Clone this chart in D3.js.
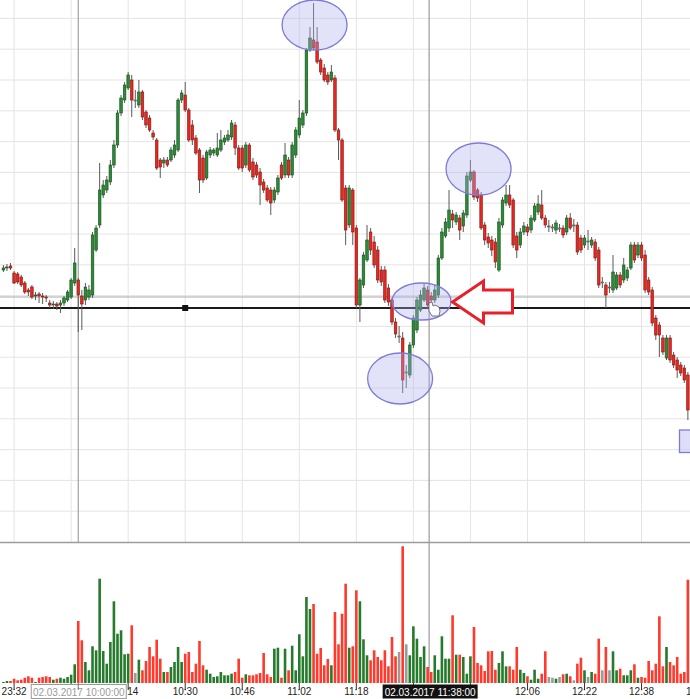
<!DOCTYPE html>
<html><head><meta charset="utf-8">
<script src="https://cdn.jsdelivr.net/npm/d3@7"></script>
<style>html,body{margin:0;padding:0;background:#fff;overflow:hidden}svg{display:block}</style>
</head><body><svg id="c" width="690" height="699"></svg>
<script>
// ---------------- DATA ----------------
const open = [
144.60,144.64,144.68,144.54,144.52,144.46,144.34,144.20,144.26,144.08,
144.12,144.08,144.06,143.94,143.90,143.92,143.90,143.94,144.00,144.06,
144.34,144.40,144.08,144.00,144.06,144.10,145.00,145.50,146.10,146.20,
146.36,146.70,147.10,147.74,148.00,148.24,148.40,148.00,147.90,148.16,
147.76,147.64,147.34,147.20,146.80,146.74,146.80,146.80,146.90,147.00,
148.00,148.10,147.80,147.50,147.24,147.00,146.84,146.44,146.90,146.94,
146.90,147.00,147.16,147.20,147.26,147.50,147.04,147.04,146.70,147.10,
146.76,146.70,146.56,146.36,146.24,146.20,146.00,146.16,146.70,146.50,
146.80,146.50,146.90,147.30,147.50,147.74,149.00,149.20,149.16,148.80,
148.64,148.50,148.40,148.44,147.40,147.20,146.24,145.50,146.20,145.44,
143.90,144.30,144.80,145.36,145.16,145.00,144.60,144.60,144.24,144.00,
143.56,143.28,143.24,142.56,142.50,143.10,143.40,143.80,144.00,144.20,
144.08,144.00,144.10,144.84,145.28,145.44,145.72,145.56,145.64,145.48,
145.70,146.40,146.56,146.20,146.10,145.50,145.26,145.20,145.16,144.60,
145.50,145.94,146.10,146.00,145.28,145.10,145.36,145.46,145.40,145.60,
145.76,145.90,145.64,145.48,145.46,145.40,145.44,145.44,145.36,145.64,
145.50,145.50,145.24,145.10,145.18,145.10,145.16,145.00,144.36,144.30,
144.26,144.20,144.24,144.50,144.40,144.44,144.64,145.10,144.90,145.10,
144.90,144.40,144.20,143.64,143.50,143.24,142.84,143.24,142.90,142.80,
142.70,142.64,142.50];
const high = [
144.70,144.72,144.74,144.58,144.56,144.50,144.38,144.24,144.30,144.16,
144.16,144.14,144.10,144.00,143.98,143.96,144.00,144.08,144.20,144.44,
145.04,144.44,144.20,144.34,144.30,145.36,145.50,146.74,146.40,146.48,
146.80,147.20,147.80,148.10,148.36,148.56,148.50,148.20,148.40,148.20,
147.80,147.70,147.40,147.24,146.84,146.86,146.86,147.06,147.20,148.04,
148.20,148.36,147.84,147.60,147.30,147.04,146.90,147.00,147.06,147.04,
147.34,147.40,147.30,147.40,147.60,147.56,147.10,147.10,147.16,147.14,
146.84,146.76,146.64,146.42,146.30,146.26,146.26,146.50,146.76,147.14,
146.86,147.16,147.46,148.00,147.80,149.04,149.46,149.94,149.46,148.84,
148.72,148.56,148.70,148.50,147.44,147.24,146.30,146.30,146.24,145.50,
144.44,144.96,145.50,145.44,145.28,145.08,144.68,144.68,144.32,144.04,
143.64,143.48,143.36,142.70,143.16,143.70,144.06,144.20,144.32,144.28,
144.16,144.30,144.90,145.44,145.64,146.20,145.80,145.76,145.70,145.80,
146.56,146.80,146.60,146.24,146.16,145.56,145.34,145.28,145.24,145.64,
146.06,146.30,146.30,146.04,145.36,145.44,145.56,145.52,145.70,145.94,
146.10,146.20,145.70,145.60,145.52,145.60,145.52,145.50,145.70,145.74,
145.62,145.56,145.30,145.30,145.40,145.26,145.22,145.06,144.46,144.36,
144.36,144.90,144.56,144.56,144.84,144.66,145.16,145.16,145.16,145.16,
145.00,144.46,144.26,143.70,143.56,143.30,143.30,143.30,142.96,142.86,
142.76,142.70,142.56];
const low = [
144.56,144.58,144.60,144.32,144.32,144.26,144.12,144.08,144.02,144.00,
143.94,143.92,143.96,143.84,143.82,143.80,143.74,143.88,143.96,144.02,
144.28,143.36,143.40,143.90,144.00,144.04,144.96,145.44,146.04,146.14,
146.30,146.64,147.04,147.68,147.94,148.20,147.66,147.84,147.84,147.60,
147.44,147.36,147.20,146.60,146.44,146.64,146.66,146.76,146.84,146.96,
147.94,147.76,147.16,147.10,146.90,146.14,146.34,146.40,146.84,146.88,
146.86,146.96,147.10,147.16,147.20,146.90,146.60,146.56,146.64,146.56,
146.40,146.44,145.90,146.14,145.96,145.70,145.94,146.10,146.40,146.44,
146.44,146.44,146.84,147.24,147.44,147.68,148.96,149.00,148.72,148.50,
148.36,148.30,148.36,147.36,146.80,145.96,145.10,145.44,145.10,143.84,
143.56,144.24,144.76,144.90,144.64,144.34,144.28,143.94,143.88,143.50,
143.24,143.14,142.14,142.24,142.44,143.04,143.34,143.76,143.96,143.84,
143.76,143.94,144.04,144.80,145.24,145.36,145.44,145.50,145.20,145.36,
145.64,146.36,146.00,145.96,145.40,145.10,145.04,144.88,144.64,144.56,
145.44,145.88,145.84,145.04,144.84,145.04,145.30,145.28,145.34,145.56,
145.70,145.60,145.44,145.36,145.36,145.32,145.36,145.24,145.30,145.40,
145.36,144.90,144.94,145.04,145.00,145.04,144.78,144.24,144.24,143.84,
144.14,144.14,144.20,144.24,144.34,144.38,144.60,144.74,144.84,144.78,
144.14,144.10,143.48,143.20,142.86,142.90,142.80,142.74,142.64,142.44,
142.48,142.34,141.60];
const close = [
144.64,144.66,144.64,144.34,144.36,144.30,144.16,144.16,144.06,144.10,
144.08,144.06,144.04,143.90,143.92,143.88,143.94,144.04,144.16,144.40,
144.74,144.10,143.92,144.26,144.20,145.30,145.44,146.20,146.30,146.40,
146.70,147.10,147.74,148.04,148.30,148.50,148.00,148.00,148.16,147.66,
147.50,147.40,147.26,146.64,146.66,146.80,146.70,147.00,147.10,148.00,
148.14,147.80,147.20,147.20,146.94,146.40,146.40,146.96,147.00,147.00,
147.04,147.20,147.24,147.30,147.54,147.04,146.64,146.64,147.10,146.60,
146.46,146.50,146.30,146.20,146.00,145.94,146.20,146.44,146.44,146.90,
146.50,147.10,147.40,147.64,147.74,149.00,149.24,149.04,148.76,148.56,
148.40,148.36,148.56,147.40,147.20,146.00,145.40,146.24,145.36,143.90,
144.40,144.90,145.20,145.00,144.70,144.40,144.36,144.00,143.96,143.56,
143.32,143.28,142.40,142.56,143.10,143.64,144.00,144.10,144.24,143.90,
144.00,144.20,144.84,145.36,145.56,145.80,145.60,145.70,145.40,145.74,
146.48,146.56,146.06,146.04,145.44,145.20,145.14,145.00,144.76,145.56,
146.00,146.10,145.90,145.10,145.00,145.36,145.48,145.36,145.64,145.88,
145.92,145.64,145.50,145.48,145.46,145.54,145.44,145.30,145.64,145.44,
145.50,144.96,145.00,145.24,145.18,145.20,144.84,144.30,144.36,144.10,
144.26,144.56,144.50,144.30,144.70,144.60,145.10,144.80,145.10,144.84,
144.20,144.16,143.54,143.30,143.30,142.96,143.24,142.80,142.70,142.60,
142.54,142.40,141.80];
const volume = [
100,200,200,430,270,330,530,670,530,100,530,600,670,600,330,430,530,430,600,830,1870,
6200,4270,2100,1270,3670,3270,10430,3200,1930,4100,8170,4930,5270,2870,2930,5770,1000,2330,1270,2200,
3600,2670,4330,2430,1100,1100,1600,2100,3600,2100,2930,3100,1100,1930,4200,1770,1330,930,600,670,1100,770,770,
930,1100,2430,530,870,770,770,870,1000,3000,870,600,3430,3530,530,3430,1270,3730,1270,4870,2670,8600,7400,7900,
2930,3500,1770,2400,1770,7100,3870,6930,9930,3530,3670,9270,8170,4370,2770,2270,3270,2600,2270,3270,1670,4600,2670,
3100,13670,3870,2770,5670,4430,2600,3670,1600,1100,2770,1330,4670,2430,2430,6770,2830,2830,
2600,930,2670,5600,2000,1770,1200,3170,3200,1330,2000,3170,1670,1670,1330,3600,1330,1000,670,330,
1330,430,930,3170,600,530,430,600,870,930,670,270,1930,2530,1270,600,1100,930,4430,1270,
3600,1270,3170,1270,1430,770,770,1270,1870,530,600,530,2200,1270,1930,6670,1670,3600,2100,1770,
2600,930,1100,10330];

// sessions: evening session of the previous day, then the 02.03.2017 day session (1-minute bars)
function buildTimes(h, m, n) {
  const a = [];
  for (let k = 0; k < n; k++) {
    const t = h * 60 + m + k;
    a.push(String(Math.floor(t / 60)).padStart(2, "0") + ":" + String(t % 60).padStart(2, "0"));
  }
  return a;
}
const times = buildTimes(23, 29, 21).concat(buildTimes(10, 0, 175));
const tickLabels = ["23:32","23:48","10:14","10:30","10:46","11:02","11:18","11:34","11:50","12:06","12:22","12:38","12:54"];
const gridTop = 149.632, gridStep = 0.616, gridCount = 17;
const grayLevel = 144.06, blackLevel = 143.84;
const sessionStart = "10:00", sessionLabel = "02.03.2017 10:00:00";
const cursorTime = "11:38", cursorLabel = "02.03.2017 11:38:00";

// ---------------- CHART ----------------
const W = 690, H = 699;
const pricePanel = [0, 542], volPanel = [543, 683];
const svg = d3.select("#c");
const fontFam = "'Liberation Sans', Arial, sans-serif";

const x = d3.scalePoint().domain(times).range([3.4, 3.4 + 3.565 * (times.length - 1)]);
const y = d3.scaleLinear().domain([150, 139.16]).range(pricePanel);
const yv = d3.scaleLinear().domain([0, 14000]).range([volPanel[1], volPanel[0]]);
const bw = 2.6;

const data = open.map((o, i) => ({t: times[i], o, h: high[i], l: low[i], c: close[i], v: volume[i]}));
const upC = "#2a8a35", upS = "#174d1c", dnC = "#e8271f", dnS = "#7d1712", flat = "#8c8c8c";
const colorOf = d => d.c > d.o ? upC : (d.c < d.o ? dnC : flat);
const strokeOf = d => d.c > d.o ? upS : (d.c < d.o ? dnS : "#555");

// horizontal grid
const gridPrices = d3.range(gridCount).map(k => gridTop - gridStep * k);
svg.append("g").selectAll("line").data(gridPrices).join("line")
  .attr("x1", 0).attr("x2", W).attr("y1", d => y(d)).attr("y2", d => y(d))
  .attr("stroke", "#e4e4e4").attr("stroke-width", 1);
// vertical grid
svg.append("g").selectAll("line").data(tickLabels).join("line")
  .attr("x1", d => x(d)).attr("x2", d => x(d)).attr("y1", pricePanel[0]).attr("y2", pricePanel[1])
  .attr("stroke", "#e4e4e4").attr("stroke-width", 1);

// session & cursor verticals
svg.append("line").attr("x1", x(sessionStart)).attr("x2", x(sessionStart))
  .attr("y1", 0).attr("y2", pricePanel[1]).attr("stroke", "#a0a0a0").attr("stroke-width", 1.2);
svg.append("line").attr("x1", x(cursorTime) + 1.5).attr("x2", x(cursorTime) + 1.5)
  .attr("y1", 0).attr("y2", volPanel[1]).attr("stroke", "#9a9a9a").attr("stroke-width", 1.2);

// level lines
svg.append("line").attr("x1", 0).attr("x2", W).attr("y1", y(grayLevel)).attr("y2", y(grayLevel))
  .attr("stroke", "#a8a8a8").attr("stroke-width", 1.2);
svg.append("line").attr("x1", 0).attr("x2", W).attr("y1", y(blackLevel)).attr("y2", y(blackLevel))
  .attr("stroke", "#1a1a1a").attr("stroke-width", 2);

// candles
const cg = svg.append("g");
cg.selectAll("line").data(data).join("line")
  .attr("x1", d => x(d.t)).attr("x2", d => x(d.t))
  .attr("y1", d => y(d.h)).attr("y2", d => y(d.l))
  .attr("stroke", "#5a5a5a").attr("stroke-width", 1);
cg.selectAll("rect").data(data).join("rect")
  .attr("x", d => x(d.t) - bw / 2).attr("width", bw)
  .attr("y", d => y(Math.max(d.o, d.c)))
  .attr("height", d => Math.max(1, Math.abs(y(d.o) - y(d.c))))
  .attr("fill", colorOf).attr("stroke", strokeOf).attr("stroke-width", 0.6);

// anchor square on the black level
svg.append("rect").attr("x", x("10:30") - 3).attr("y", y(blackLevel) - 3)
  .attr("width", 6).attr("height", 6).attr("fill", "#111");

// highlight ellipses (annotation)
const ell = [
  {t: "11:06", p: 149.50, rx: 32.5, ry: 25},
  {t: "11:52", p: 146.62, rx: 32.5, ry: 26},
  {t: "11:36", p: 143.97, rx: 29.5, ry: 18.5},
  {t: "11:30", p: 142.43, rx: 32.5, ry: 25.5}
];
svg.append("g").selectAll("ellipse").data(ell).join("ellipse")
  .attr("cx", d => x(d.t) + 1).attr("cy", d => y(d.p)).attr("rx", d => d.rx).attr("ry", d => d.ry)
  .attr("fill", "rgba(175,175,238,0.36)").attr("stroke", "#7c7cd8").attr("stroke-width", 1.3);

// small price box at right edge
svg.append("rect").attr("x", 679.5).attr("y", y(141.40)).attr("width", 14).attr("height", 22.5)
  .attr("fill", "rgba(205,205,245,0.65)").attr("stroke", "#7c7cd8").attr("stroke-width", 1.3);

// red hollow arrow pointing left
const ax = 452.5, ay = 302;
svg.append("path")
  .attr("d", `M${ax},${ay} L${ax+31},${ay-21} L${ax+31},${ay-12} L${ax+60},${ay-12} L${ax+60},${ay+11} L${ax+31},${ay+11} L${ax+31},${ay+21} Z`)
  .attr("fill", "#fff").attr("stroke", "#e8202a").attr("stroke-width", 3).attr("stroke-linejoin", "miter");

// mouse cursor (hand)
svg.append("path")
  .attr("d", "M429,303 l3,-1 l1,4 l2,-1 l2,1 l2,1 l1,4 l-1,5 l-7,0 l-3,-5 z")
  .attr("fill", "#fff").attr("stroke", "#555").attr("stroke-width", 0.8);

// volume bars
svg.append("g").selectAll("rect").data(data).join("rect")
  .attr("x", d => x(d.t) - bw / 2).attr("width", bw)
  .attr("y", d => yv(d.v)).attr("height", d => yv(0) - yv(d.v))
  .attr("fill", d => d.c > d.o ? "#267a2c" : (d.c < d.o ? "#ff3a2c" : "#9b9b9b"));

// panel separator
svg.append("line").attr("x1", 0).attr("x2", W).attr("y1", 542.5).attr("y2", 542.5)
  .attr("stroke", "#9c9c9c").attr("stroke-width", 1.3);

// date boxes geometry
const bx1 = x(sessionStart), box1 = [bx1 - 47, bx1 + 48];
const bx2 = x(cursorTime), box2 = [bx2 - 45, bx2 + 50];
const inside = (v, b) => v > b[0] && v < b[1];

// time axis: tick marks at all ticks, labels only where not covered by a date box
const ag = svg.append("g");
ag.selectAll("line").data(tickLabels).join("line")
  .attr("x1", d => x(d)).attr("x2", d => x(d)).attr("y1", 683).attr("y2", 690)
  .attr("stroke", "#333").attr("stroke-width", 1);
const labelInfo = tickLabels.map(t => {
  const cx = x(t);
  if (inside(cx, box2)) return null;
  if (inside(cx - 12, box1) && inside(cx + 12, box1)) return null;
  if (inside(cx - 12, box1)) return {t, x: box1[1] + 1, anchor: "start", text: t.slice(3)}; // partly hidden
  return {t, x: cx, anchor: "middle", text: t};
}).filter(Boolean);
ag.selectAll("text").data(labelInfo).join("text")
  .attr("x", d => d.x).attr("y", 695).attr("text-anchor", d => d.anchor)
  .attr("font-family", fontFam).attr("font-size", 10).attr("fill", "#222").text(d => d.text);

// date boxes
svg.append("rect").attr("x", box1[0]).attr("y", 684.5).attr("width", box1[1] - box1[0]).attr("height", 14)
  .attr("fill", "#fff").attr("stroke", "#9a9a9a").attr("stroke-width", 1);
svg.append("text").attr("x", bx1 + 0.5).attr("y", 695.5).attr("text-anchor", "middle")
  .attr("font-family", fontFam).attr("font-size", 10).attr("fill", "#9a9a9a").text(sessionLabel);
svg.append("line").attr("x1", bx1).attr("x2", bx1).attr("y1", 683).attr("y2", 690).attr("stroke", "#777");

svg.append("rect").attr("x", box2[0]).attr("y", 684.5).attr("width", box2[1] - box2[0]).attr("height", 14)
  .attr("fill", "#111");
svg.append("text").attr("x", bx2 + 2.5).attr("y", 695.5).attr("text-anchor", "middle")
  .attr("font-family", fontFam).attr("font-size", 10).attr("fill", "#fff").text(cursorLabel);
</script>
</body></html>
